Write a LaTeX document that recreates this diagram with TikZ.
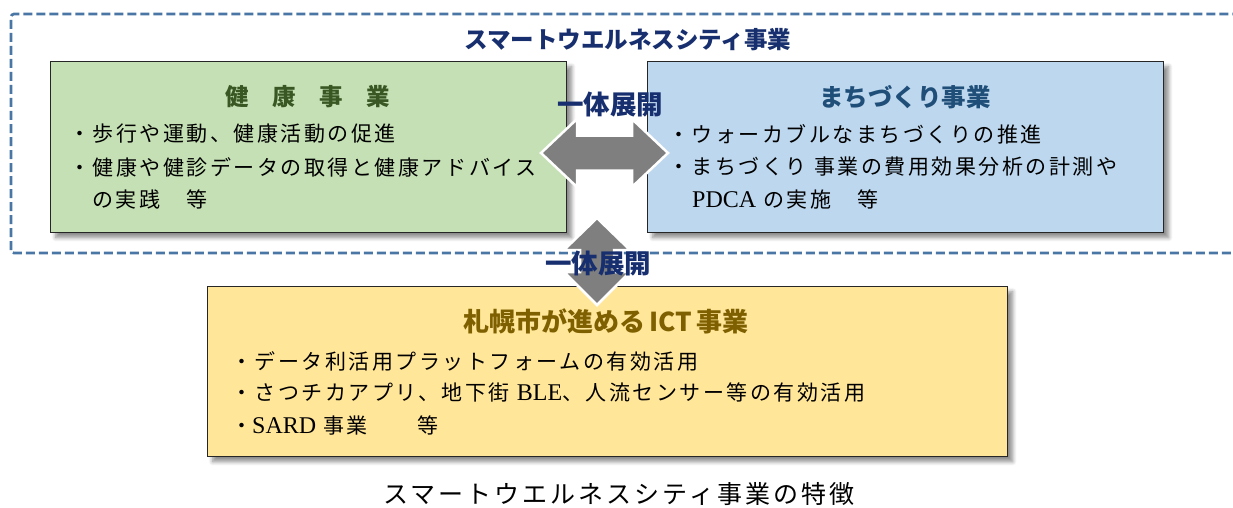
\documentclass[tikz,border=0pt]{standalone}
\usepackage{fontspec}
\setmainfont{Liberation Serif}
\newfontfamily\jpr{Noto Sans CJK JP}[LetterSpace=12]
\newfontfamily\jph{Noto Sans CJK JP}
\newfontfamily\jpcap{Noto Sans CJK JP}[LetterSpace=12]
\newfontfamily\lat{Liberation Serif}
\usetikzlibrary{shadows.blur}
\definecolor{dashblue}{HTML}{4A76A6}
\definecolor{navy}{HTML}{172F6E}
\definecolor{greenfill}{HTML}{C5E0B4}
\definecolor{greenhead}{HTML}{385723}
\definecolor{bluefill}{HTML}{BDD7EE}
\definecolor{bluehead}{HTML}{1F4E79}
\definecolor{yellowfill}{HTML}{FFE699}
\definecolor{yellowhead}{HTML}{7F6000}
\definecolor{arrowgray}{HTML}{7F7F7F}
\definecolor{boxline}{HTML}{262626}
\newcommand{\lt}[1]{{\lat\fontsize{24}{25}\selectfont #1}}
\begin{document}
\begin{tikzpicture}[x=1pt,y=-1pt,
  box/.style={draw=boxline, line width=1.3pt, anchor=north west, inner sep=0pt,
    blur shadow={shadow xshift=5pt, shadow yshift=-5pt, shadow blur steps=6, shadow blur radius=4pt, shadow opacity=45}},
  body/.style={anchor=west, inner sep=0pt, font=\jpr\fontsize{21}{25}\selectfont},
  head/.style={inner sep=0pt, font=\jph\bfseries\fontsize{23.5}{26}\selectfont},
  joint/.style={inner sep=0pt, text=navy, font=\jph\bfseries\fontsize{26.5}{28}\selectfont},
  twoway/.style={fill=arrowgray, draw=white, line width=2.5pt, line join=miter}
]
\useasboundingbox (0,0) rectangle (1233,508);
\clip (0,0) rectangle (1233,508);
% dashed frame
\draw[dashblue, line width=2.7pt, dash pattern=on 9pt off 4pt, rounded corners=3pt]
  (11,253) -- (11,14) -- (1250,14) -- (1250,253) -- cycle;
\node[head, text=navy] (title) at (628,40) {スマートウエルネスシティ事業};
% boxes
\node[box, fill=greenfill, minimum width=516pt, minimum height=171pt] (green) at (50,61) {};
\node[box, fill=bluefill, minimum width=516pt, minimum height=171pt] (blue) at (647,61) {};
\node[box, fill=yellowfill, minimum width=800pt, minimum height=170pt] (yellow) at (207,286) {};
% headings
\node[head, text=greenhead] (gh) at (308,97) {健　康　事　業};
\node[head, text=bluehead, font=\jph\bfseries\fontsize{24.5}{26}\selectfont] (bh) at (905,97) {まちづくり事業};
\node[head, text=yellowhead, font=\jph\bfseries\fontsize{26}{28}\selectfont] (yh) at (606,321) {札幌市が進める\,ICT\,事業};
% green body
\node[body] (g1) at (69,134) {・歩行や運動、健康活動の促進};
\node[body] (g2) at (69,167) {・健康や健診データの取得と健康アドバイス};
\node[body] (g3) at (92,199) {の実践　等};
% blue body
\node[body] (b1) at (668,134) {・ウォーカブルなまちづくりの推進};
\node[body] (b2) at (668,167) {・まちづくり\ 事業の費用効果分析の計測や};
\node[body] (b3) at (692,199) {\lt{PDCA}\ の実施　等};
% yellow body
\node[body] (y1) at (231,361) {・データ利活用プラットフォームの有効活用};
\node[body] (y2) at (231,393) {・さつチカアプリ、地下街\ \lt{BLE}、人流センサー等の有効活用};
\node[body] (y3) at (231,425) {・\lt{SARD}\ 事業　　等};
% horizontal double arrow
\draw[twoway] (541,153) -- (577,119) -- (577,135.5) -- (632,135.5) -- (632,119) -- (668,153)
  -- (632,187) -- (632,170.5) -- (577,170.5) -- (577,187) -- cycle;
% vertical double arrow
\draw[twoway] (597,218) -- (630,250) -- (614,250) -- (614,272) -- (630,272) -- (597,305)
  -- (564,272) -- (580,272) -- (580,250) -- (564,250) -- cycle;
% joint labels
\node[joint] (j1) at (610,105) {一体展開};
\node[joint] (j2) at (598,264) {一体展開};
% caption
\node[inner sep=0pt, font=\jpcap\fontsize{25}{28}\selectfont] (cap) at (619,494) {スマートウエルネスシティ事業の特徴};
\end{tikzpicture}
\end{document}
